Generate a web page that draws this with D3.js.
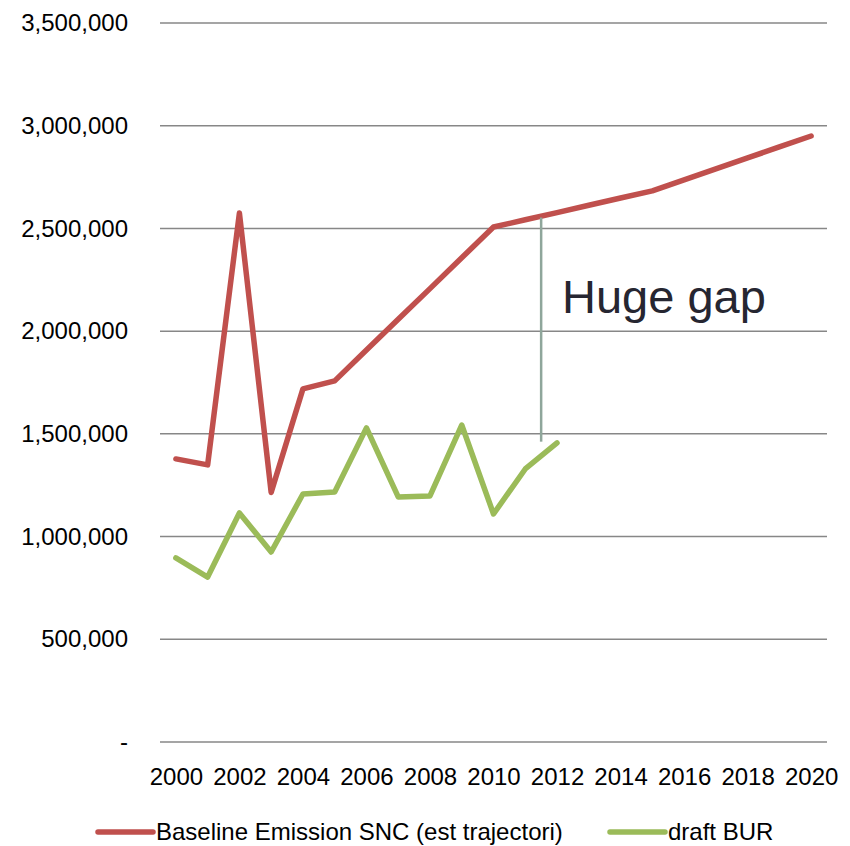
<!DOCTYPE html>
<html>
<head>
<meta charset="utf-8">
<script src="https://cdn.jsdelivr.net/npm/d3@7"></script>
<style>
  body { margin: 0; background: #fff; }
  .axis text { font-family: "Liberation Sans", Arial, sans-serif; font-size: 24px; fill: #000; }
  .legend text { font-family: "Liberation Sans", Arial, sans-serif; font-size: 24px; fill: #000; }
</style>
</head>
<body>
<svg class="chart"></svg>
<script>
// chart data
var years = [2000, 2001, 2002, 2003, 2004, 2005, 2006, 2007, 2008, 2009, 2010,
             2011, 2012, 2013, 2014, 2015, 2016, 2017, 2018, 2019, 2020];
var yearTicks = [2000, 2002, 2004, 2006, 2008, 2010, 2012, 2014, 2016, 2018, 2020];
var yTicks = [0, 500000, 1000000, 1500000, 2000000, 2500000, 3000000, 3500000];

var baselineName = "Baseline Emission SNC (est trajectori)";
var baseline = [1378000, 1349000, 2575000, 1215000, 1719000, 1758000, 1908000,
                2058000, 2207000, 2357000, 2507000, 2542000, 2577000, 2613000,
                2648000, 2683000, 2736000, 2790000, 2843000, 2897000, 2950000];

var burName = "draft BUR";
var draftBur = [896000, 803000, 1115000, 925000, 1207000, 1217000, 1529000,
                1193000, 1198000, 1543000, 1110000, 1329000, 1456000];

// annotation
var gapLabel = "Huge gap";
var gapYears = [2011, 2012];       // line sits halfway between these
var gapRange = [1462000, 2553000];

var margin = {top: 23, right: 23, bottom: 104, left: 160},
    width = 850 - margin.left - margin.right,
    height = 846 - margin.top - margin.bottom;

var svg = d3.select(".chart")
    .attr("width", width + margin.left + margin.right)
    .attr("height", height + margin.top + margin.bottom)
  .append("g")
    .attr("transform", "translate(" + margin.left + "," + margin.top + ")");

// setup x
var xScale = d3.scalePoint().domain(years).range([0, width]).padding(0.5);

// setup y
var yScale = d3.scaleLinear().domain([0, 3500000]).range([height, 0]);

// gridlines
svg.append("g")
    .selectAll("line")
    .data(yTicks)
  .enter().append("line")
    .attr("x1", 0)
    .attr("x2", width)
    .attr("y1", function(d) { return yScale(d); })
    .attr("y2", function(d) { return yScale(d); })
    .attr("stroke", "#878787")
    .attr("stroke-width", 1.5);

// y-axis labels
var yAxis = d3.axisLeft(yScale)
    .tickValues(yTicks)
    .tickSize(0)
    .tickPadding(32)
    .tickFormat(function(d) { return d === 0 ? "-" : d3.format(",")(d); });

svg.append("g")
    .attr("class", "y axis")
    .call(yAxis)
    .call(function(g) { g.select(".domain").remove(); });

// x-axis labels
var xAxis = d3.axisBottom(xScale)
    .tickValues(yearTicks)
    .tickSize(0)
    .tickPadding(26);

svg.append("g")
    .attr("class", "x axis")
    .attr("transform", "translate(0," + height + ")")
    .call(xAxis)
    .call(function(g) { g.select(".domain").remove(); });

var line = d3.line()
    .x(function(d, i) { return xScale(years[i]); })
    .y(function(d) { return yScale(d); });

svg.append("path")
    .datum(baseline)
    .attr("fill", "none")
    .attr("stroke", "#c0504d")
    .attr("stroke-width", 5.5)
    .attr("stroke-linejoin", "round")
    .attr("stroke-linecap", "round")
    .attr("d", line);

svg.append("path")
    .datum(draftBur)
    .attr("fill", "none")
    .attr("stroke", "#9bbb59")
    .attr("stroke-width", 5.5)
    .attr("stroke-linejoin", "round")
    .attr("stroke-linecap", "round")
    .attr("d", line);

// gap marker
var gapX = (xScale(gapYears[0]) + xScale(gapYears[1])) / 2;
svg.append("line")
    .attr("x1", gapX)
    .attr("x2", gapX)
    .attr("y1", yScale(gapRange[1]))
    .attr("y2", yScale(gapRange[0]))
    .attr("stroke", "#8fa69b")
    .attr("stroke-width", 2.5);

svg.append("text")
    .attr("x", xScale(gapYears[1]) + 5)
    .attr("y", yScale(2087000))
    .style("font-family", "'Liberation Sans', Arial, sans-serif")
    .style("font-size", "47px")
    .style("fill", "#262631")
    .text(gapLabel);

// legend
var legend = d3.select(".chart").append("g")
    .attr("class", "legend");

var items = [
  {name: baselineName, color: "#c0504d", x: 98},
  {name: burName, color: "#9bbb59", x: 610}
];

var item = legend.selectAll("g")
    .data(items)
  .enter().append("g")
    .attr("transform", function(d) { return "translate(" + d.x + ",832)"; });

item.append("line")
    .attr("x1", 0)
    .attr("x2", 55)
    .attr("stroke", function(d) { return d.color; })
    .attr("stroke-width", 5.5)
    .attr("stroke-linecap", "round");

item.append("text")
    .attr("x", 58)
    .attr("y", 8)
    .text(function(d) { return d.name; });
</script>
</body>
</html>
